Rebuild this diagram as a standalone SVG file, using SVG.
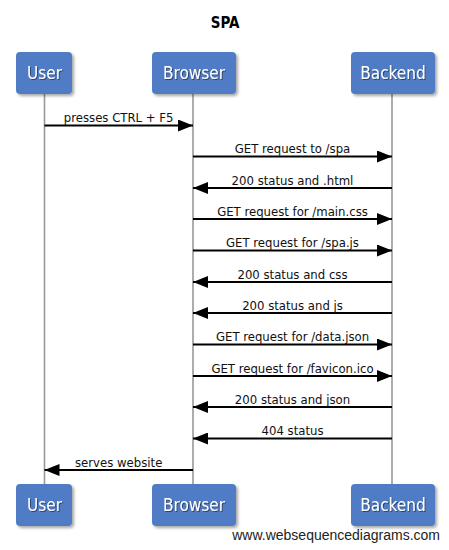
<svg xmlns="http://www.w3.org/2000/svg" width="449" height="550" viewBox="0 0 449 550">
<defs>
<style>
.box{fill:#4F7BC4;}
.bt{font-family:"DejaVu Sans Condensed","DejaVu Sans",sans-serif;font-size:17px;fill:#fff;text-anchor:middle;}
.life{stroke:#999;stroke-width:1.6;fill:none;}
.msg{stroke:#000;stroke-width:2;fill:none;marker-end:url(#ah);}
.lbl{font-family:"DejaVu Sans Condensed","DejaVu Sans",sans-serif;font-size:13px;fill:#111;text-anchor:middle;}
.title{font-family:"DejaVu Sans Condensed","DejaVu Sans",sans-serif;font-size:15px;font-weight:bold;fill:#000;text-anchor:middle;}
.foot{font-family:"Liberation Sans",Arial,sans-serif;font-size:14px;fill:#222;text-anchor:end;}
</style>
<filter id="sh" x="-20%" y="-20%" width="150%" height="160%">
<feDropShadow dx="2" dy="2" stdDeviation="1.5" flood-color="#000" flood-opacity="0.35"/>
</filter>
<filter id="tsh" x="-10%" y="-20%" width="130%" height="150%">
<feDropShadow dx="1" dy="1" stdDeviation="0.6" flood-color="#123" flood-opacity="0.6"/>
</filter>
<marker id="ah" markerUnits="userSpaceOnUse" markerWidth="15" markerHeight="12" refX="15" refY="6" orient="auto">
<path d="M0,0 L15,6 L0,12 z" fill="#000"/>
</marker>
</defs>
<rect width="449" height="550" fill="#fff"/>
<text class="title" x="225" y="28">SPA</text>
<g id="lifelines">
<line class="life" x1="44.5" y1="94" x2="44.5" y2="484"/>
<line class="life" x1="193" y1="94" x2="193" y2="484"/>
<line class="life" x1="392" y1="94" x2="392" y2="484"/>
</g>
<g id="connectors">
<line class="msg" x1="44.5" y1="125.5" x2="193" y2="125.5"/>
<text class="lbl" x="118.7" y="122">presses CTRL + F5</text>
<line class="msg" x1="193" y1="156.5" x2="392" y2="156.5"/>
<text class="lbl" x="292.5" y="153">GET request to /spa</text>
<line class="msg" x1="392" y1="188" x2="193" y2="188"/>
<text class="lbl" x="292.5" y="184.5">200 status and .html</text>
<line class="msg" x1="193" y1="219" x2="392" y2="219"/>
<text class="lbl" x="292.5" y="215.5">GET request for /main.css</text>
<line class="msg" x1="193" y1="250.5" x2="392" y2="250.5"/>
<text class="lbl" x="292.5" y="247">GET request for /spa.js</text>
<line class="msg" x1="392" y1="282" x2="193" y2="282"/>
<text class="lbl" x="292.5" y="278.5">200 status and css</text>
<line class="msg" x1="392" y1="313" x2="193" y2="313"/>
<text class="lbl" x="292.5" y="309.5">200 status and js</text>
<line class="msg" x1="193" y1="344.5" x2="392" y2="344.5"/>
<text class="lbl" x="292.5" y="341">GET request for /data.json</text>
<line class="msg" x1="193" y1="376" x2="392" y2="376"/>
<text class="lbl" x="292.5" y="372.5">GET request for /favicon.ico</text>
<line class="msg" x1="392" y1="407" x2="193" y2="407"/>
<text class="lbl" x="292.5" y="403.5">200 status and json</text>
<line class="msg" x1="392" y1="438.5" x2="193" y2="438.5"/>
<text class="lbl" x="292.5" y="435">404 status</text>
<line class="msg" x1="193" y1="470" x2="44.5" y2="470"/>
<text class="lbl" x="118.7" y="466.5">serves website</text>
</g>
<g id="user-top">
<rect class="box" x="16" y="52" width="56" height="42" rx="4" filter="url(#sh)"/>
<text class="bt" x="44.5" y="79" filter="url(#tsh)">User</text>
</g>
<g id="browser-top">
<rect class="box" x="152" y="52" width="84" height="42" rx="4" filter="url(#sh)"/>
<text class="bt" x="194" y="79" filter="url(#tsh)">Browser</text>
</g>
<g id="backend-top">
<rect class="box" x="351" y="52" width="84" height="42" rx="4" filter="url(#sh)"/>
<text class="bt" x="393" y="79" filter="url(#tsh)">Backend</text>
</g>
<g id="user-bottom">
<rect class="box" x="16" y="484" width="56" height="42" rx="4" filter="url(#sh)"/>
<text class="bt" x="44.5" y="511" filter="url(#tsh)">User</text>
</g>
<g id="browser-bottom">
<rect class="box" x="152" y="484" width="84" height="42" rx="4" filter="url(#sh)"/>
<text class="bt" x="194" y="511" filter="url(#tsh)">Browser</text>
</g>
<g id="backend-bottom">
<rect class="box" x="351" y="484" width="84" height="42" rx="4" filter="url(#sh)"/>
<text class="bt" x="393" y="511" filter="url(#tsh)">Backend</text>
</g>
<text class="foot" x="440" y="540">www.websequencediagrams.com</text>
</svg>
